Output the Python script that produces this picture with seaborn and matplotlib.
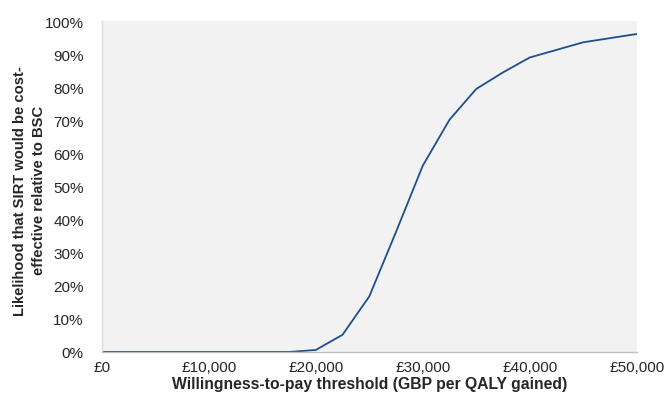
# Cost-effectiveness acceptability curve: SIRT vs BSC
import matplotlib
matplotlib.use('Agg')
import matplotlib.pyplot as plt
import matplotlib.ticker as ticker
import seaborn as sns
import pandas as pd

# data
wtp = [0, 2500, 5000, 7500, 10000, 12500, 15000, 17500, 20000, 22500,
       25000, 27500, 30000, 32500, 35000, 37500, 40000, 45000, 50000]
prob = [0.0, 0.0, 0.0, 0.0, 0.0, 0.0, 0.0, 0.0, 0.6, 5.2,
        16.8, 36.3, 56.3, 70.2, 79.5, 84.5, 89.0, 93.6, 96.1]
x_ticks = [0, 10000, 20000, 30000, 40000, 50000]
y_ticks = list(range(0, 101, 10))

df = pd.DataFrame({'wtp': wtp, 'prob': prob})

sns.set_theme(style="white")
plt.rcParams['font.family'] = ['Liberation Sans', 'DejaVu Sans']

fig = plt.figure(figsize=(6.66, 4.02), dpi=100)
ax = fig.add_axes([0.153, 0.122, 0.803, 0.823])
ax.set_facecolor('#f2f2f2')

sns.lineplot(data=df, x='wtp', y='prob', color='#1f4e8c', linewidth=1.3, ax=ax)

ax.set_xlim(0, 50000)
ax.set_ylim(0, 100)
ax.set_xticks(x_ticks)
ax.set_yticks(y_ticks)
ax.xaxis.set_major_formatter(ticker.FuncFormatter(lambda v, p: '£{:,.0f}'.format(v)))
ax.yaxis.set_major_formatter(ticker.FuncFormatter(lambda v, p: '{:.0f}%'.format(v)))
ax.tick_params(axis='both', length=0, labelsize=11, colors='#262626')
ax.tick_params(axis='x', pad=6)
ax.tick_params(axis='y', pad=13)

for s in ['top', 'right']:
    ax.spines[s].set_visible(False)
ax.spines['left'].set_color('#d9d9d9')
ax.spines['bottom'].set_color('#bfbfbf')
ax.spines['left'].set_linewidth(1.0)
ax.spines['bottom'].set_linewidth(1.0)

ax.set_xlabel('Willingness-to-pay threshold (GBP per QALY gained)',
              fontsize=11.3, fontweight='bold', color='#262626', labelpad=1)
ax.set_ylabel('Likelihood that SIRT would be cost-\neffective relative to BSC',
              fontsize=10.6, fontweight='bold', color='#262626',
              linespacing=1.45, va='center')
ax.yaxis.set_label_coords(-0.136, 0.49)

fig.savefig('out.png', dpi=100)
